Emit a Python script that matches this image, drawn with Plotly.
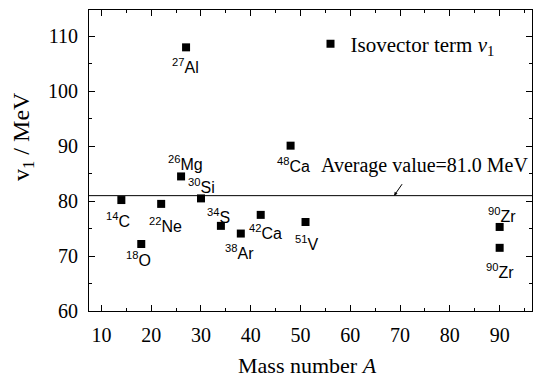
import plotly.graph_objects as go

# ---- data ----
mass_number = [14, 18, 22, 26, 27, 30, 34, 38, 42, 48, 51, 90, 90]
v1_mev = [80.2, 72.2, 79.5, 84.5, 108.0, 80.5, 75.5, 74.1, 77.5, 90.1, 76.2, 75.3, 71.5]
isotope_mass = ["14", "18", "22", "26", "27", "30", "34", "38", "42", "48", "51", "90", "90"]
isotope_symbol = ["C", "O", "Ne", "Mg", "Al", "Si", "S", "Ar", "Ca", "Ca", "V", "Zr", "Zr"]
average_value = 81.0
x_ticks = [10, 20, 30, 40, 50, 60, 70, 80, 90]
y_ticks = [60, 70, 80, 90, 100, 110]

# label offsets in pixels (dx, dy with dy positive = up)
label_offsets = [(-3, -20), (-3, -15), (4, -21), (4, 13), (-1, -19), (1, 12), (-2, 10),
                 (-1, -18), (5, -17), (3, -19), (1, -21), (2, 12), (0, -23)]

SERIF = "Liberation Serif, Times New Roman, serif"
SANS = "Liberation Sans, Arial, sans-serif"

fig = go.Figure()
fig.add_trace(go.Scatter(
    x=mass_number, y=v1_mev, mode="markers",
    marker=dict(symbol="square", size=8, color="black"),
    name="Isovector term <i>v</i><sub>1</sub>",
    showlegend=True,
))

annotations = []
for xv, yv, m, s, (dx, dy) in zip(mass_number, v1_mev, isotope_mass, isotope_symbol, label_offsets):
    annotations.append(dict(
        x=xv, y=yv, xref="x", yref="y", text=f"<sup>{m}</sup>{s}",
        showarrow=False, xshift=dx, yshift=dy,
        font=dict(family=SANS, size=16, color="black"),
        xanchor="center", yanchor="middle",
    ))

# average line label + arrow
annotations.append(dict(
    x=75.0, y=86.5, xref="x", yref="y", text=f"Average value={average_value:.1f} MeV",
    showarrow=False, font=dict(family=SERIF, size=20, color="black"),
    xanchor="center", yanchor="middle",
))
annotations.append(dict(
    x=68.8, y=average_value, xref="x", yref="y", text="",
    showarrow=True, ax=9, ay=-13, arrowhead=2, arrowsize=0.7, arrowwidth=1,
    arrowcolor="black", standoff=0,
))

# axis titles
annotations.append(dict(
    x=0.494, y=0, xref="paper", yref="paper", yshift=-54,
    text="Mass number <i>A</i>", showarrow=False,
    font=dict(family=SERIF, size=22, color="black"),
    xanchor="center", yanchor="middle",
))
annotations.append(dict(
    x=0, y=0.578, xref="paper", yref="paper", xshift=-66,
    text="v<sub>1</sub> / MeV", showarrow=False, textangle=-90,
    font=dict(family=SERIF, size=24, color="black"),
    xanchor="center", yanchor="middle",
))

fig.add_shape(type="line", xref="paper", yref="y", x0=0, x1=1,
              y0=average_value, y1=average_value, line=dict(color="black", width=1))

axis_common = dict(
    showgrid=False, zeroline=False, showline=True, linecolor="black", linewidth=1,
    mirror="allticks", ticks="inside", ticklen=6, tickcolor="black", tickwidth=1,
    tickfont=dict(family=SERIF, size=20, color="black"),
)

fig.update_layout(
    width=534, height=378,
    margin=dict(l=89, r=2, t=10, b=67),
    plot_bgcolor="white", paper_bgcolor="white",
    xaxis=dict(range=[7.5, 96.5], tickvals=x_ticks,
               minor=dict(dtick=5, tick0=0, ticks="inside", ticklen=3, tickcolor="black"),
               ticklabelstandoff=6, **axis_common),
    yaxis=dict(range=[60, 114.8], tickvals=y_ticks,
               minor=dict(dtick=5, tick0=0, ticks="inside", ticklen=3, tickcolor="black"),
               ticklabelstandoff=6, **axis_common),
    showlegend=True,
    legend=dict(x=0.50, y=0.887, xanchor="left", yanchor="middle",
                bgcolor="rgba(0,0,0,0)", font=dict(family=SERIF, size=21, color="black")),
    annotations=annotations,
)

fig.write_html("out.html", config={"displayModeBar": False},
               post_script="document.body.style.margin='0px';")
